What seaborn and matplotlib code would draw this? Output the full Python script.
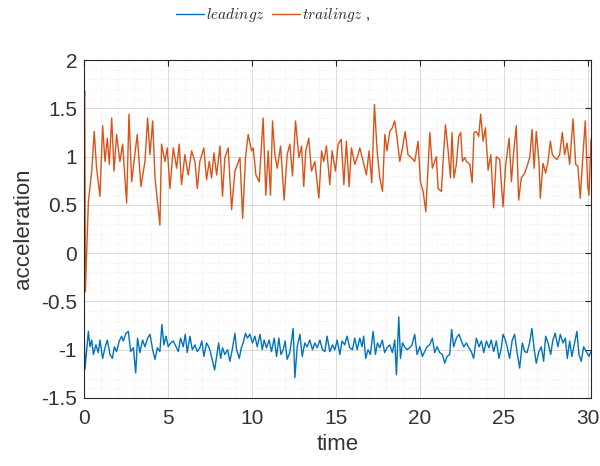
import matplotlib
matplotlib.use("Agg")
import numpy as np
import pandas as pd
import matplotlib.pyplot as plt
import seaborn as sns
from matplotlib.ticker import MultipleLocator

# trailing z acceleration (orange)
trailing_t = [0.00, 0.04, 0.08, 0.26, 0.46, 0.61, 0.75, 0.95, 1.11, 1.25, 1.39, 1.51, 1.65, 1.79, 1.94,
              2.14, 2.30, 2.54, 2.68, 2.84, 2.98, 3.17, 3.39, 3.63, 3.79, 3.93, 4.09, 4.23, 4.52,
              4.62, 4.82, 4.96, 5.12, 5.32, 5.52, 5.67, 5.81, 6.01, 6.21, 6.41, 6.61, 6.75, 6.90,
              7.14, 7.30, 7.46, 7.60, 7.74, 7.90, 8.10, 8.25, 8.39, 8.59, 8.79, 8.99, 9.29, 9.45,
              9.62, 9.78, 9.98, 10.08, 10.24, 10.44, 10.67, 10.83, 10.97, 11.11, 11.23, 11.37,
              11.51, 11.71, 11.92, 12.10, 12.26, 12.42, 12.60, 12.80, 12.96, 13.09, 13.21, 13.39,
              13.55, 13.75, 13.99, 14.15, 14.28, 14.44, 14.64, 14.78, 14.98, 15.14, 15.32, 15.48,
              15.63, 15.79, 15.93, 16.13, 16.29, 16.43, 16.63, 16.82, 16.98, 17.14, 17.30, 17.46,
              17.62, 17.78, 17.92, 18.05, 18.21, 18.37, 18.51, 18.65, 18.81, 18.97, 19.13, 19.30,
              19.50, 19.70, 19.90, 20.04, 20.20, 20.36, 20.50, 20.60, 20.75, 20.99, 21.09, 21.29,
              21.39, 21.53, 21.69, 21.83, 21.92, 22.04, 22.18, 22.32, 22.44, 22.54, 22.68, 22.78,
              22.98, 23.12, 23.23, 23.37, 23.51, 23.63, 23.77, 23.91, 24.07, 24.23, 24.40, 24.56,
              24.76, 24.96, 25.12, 25.32, 25.46, 25.60, 25.75, 25.89, 26.05, 26.25, 26.39, 26.55,
              26.69, 26.81, 26.94, 27.10, 27.18, 27.34, 27.50, 27.64, 27.78, 27.90, 28.04, 28.17,
              28.33, 28.49, 28.63, 28.77, 28.93, 29.13, 29.29, 29.42, 29.56, 29.72, 29.86, 30.00,
              30.08, 30.20]
trailing_z = [1.55, 1.68, -0.40, 0.53, 0.85, 1.26, 0.88, 0.59, 1.32, 0.95, 1.19, 0.92, 1.40, 0.85, 1.23,
              0.95, 1.13, 0.52, 1.44, 0.74, 0.95, 1.23, 0.69, 0.95, 1.40, 1.02, 1.37, 0.78, 0.29,
              1.13, 0.95, 1.09, 0.67, 1.09, 0.88, 1.13, 0.71, 1.02, 0.81, 1.06, 0.95, 0.67, 0.95,
              1.09, 0.76, 0.95, 0.78, 1.04, 0.81, 1.11, 0.59, 0.99, 1.09, 0.45, 0.85, 0.99, 0.36,
              0.99, 1.23, 1.06, 1.09, 0.81, 0.74, 1.40, 0.60, 1.06, 0.60, 1.37, 1.02,
              0.88, 1.11, 0.55, 1.02, 1.13, 0.80, 1.37, 0.99, 1.11, 0.69, 1.06, 1.19,
              0.85, 0.95, 0.57, 1.06, 0.95, 1.11, 0.71, 1.06, 0.85, 1.13, 1.18, 0.71,
              1.16, 0.69, 1.09, 0.92, 1.00, 1.09, 0.95, 0.81, 1.06, 0.73, 1.54, 1.06,
              0.78, 0.64, 1.23, 1.06, 1.26, 1.30, 1.37, 1.19, 0.95, 1.09, 1.26, 1.02,
              0.99, 0.95, 1.16, 0.74, 0.64, 0.43, 0.92, 1.25, 0.88, 1.00, 0.67, 0.64,
              0.95, 1.33, 1.06, 0.78, 1.25, 0.78, 0.92, 1.21, 1.25, 0.95, 0.99, 0.95,
              0.92, 0.73, 1.25, 1.26, 1.21, 1.44, 1.16, 1.30, 0.86, 1.02, 0.47, 1.00,
              0.97, 0.48, 0.92, 1.19, 0.74, 1.06, 1.32, 0.55, 0.78, 0.83, 0.90, 0.99,
              1.28, 0.88, 1.26, 0.95, 0.57, 0.93, 0.83, 0.95, 1.16, 1.02, 0.99, 0.97,
              1.02, 1.25, 1.02, 1.14, 0.92, 1.39, 0.92, 0.90, 0.57, 1.02, 1.37, 0.71,
              0.60, 1.18]

# leading z acceleration (blue)
leading_t = [0.00, 0.06, 0.26, 0.36, 0.46, 0.56, 0.71, 0.85, 0.95, 1.11, 1.25, 1.39, 1.55, 1.69,
             1.81, 1.94, 2.10, 2.24, 2.34, 2.50, 2.64, 2.78, 2.94, 3.08, 3.19, 3.33, 3.49, 3.63,
             3.79, 3.93, 4.09, 4.23, 4.37, 4.52, 4.64, 4.76, 4.88, 5.02, 5.16, 5.32, 5.48, 5.62,
             5.75, 5.91, 6.03, 6.15, 6.31, 6.45, 6.61, 6.75, 6.90, 7.02, 7.14, 7.30, 7.46, 7.62,
             7.78, 7.90, 8.02, 8.14, 8.25, 8.39, 8.55, 8.69, 8.83, 8.99, 9.09, 9.25, 9.37, 9.48,
             9.62, 9.74, 9.88, 10.04, 10.18, 10.32, 10.48, 10.62, 10.73, 10.87, 11.03, 11.17,
             11.33, 11.47, 11.61, 11.73, 11.87, 11.98, 12.10, 12.26, 12.46, 12.56, 12.70, 12.86,
             13.00, 13.15, 13.29, 13.45, 13.61, 13.75, 13.89, 14.05, 14.21, 14.35, 14.48, 14.64,
             14.80, 14.94, 15.08, 15.24, 15.37, 15.53, 15.67, 15.83, 15.99, 16.13, 16.27, 16.43,
             16.56, 16.66, 16.78, 16.92, 17.06, 17.22, 17.36, 17.48, 17.62, 17.77, 17.91, 18.05,
             18.21, 18.37, 18.51, 18.61, 18.75, 18.85, 18.97, 19.10, 19.24, 19.40, 19.54, 19.70,
             19.84, 20.00, 20.16, 20.29, 20.43, 20.59, 20.75, 20.89, 21.03, 21.19, 21.35, 21.49,
             21.62, 21.78, 21.90, 22.02, 22.18, 22.34, 22.48, 22.62, 22.78, 22.93, 23.07, 23.21,
             23.37, 23.53, 23.67, 23.81, 23.97, 24.12, 24.26, 24.40, 24.56, 24.72, 24.86, 24.96,
             25.10, 25.22, 25.35, 25.51, 25.65, 25.79, 25.95, 26.11, 26.25, 26.39, 26.54, 26.68,
             26.82, 26.94, 27.10, 27.24, 27.38, 27.50, 27.64, 27.80, 27.93, 28.07, 28.23, 28.37,
             28.53, 28.67, 28.79, 28.93, 29.06, 29.22, 29.36, 29.48, 29.62, 29.76, 29.92, 30.08,
             30.20]
leading_z = [-0.74, -1.20, -0.81, -0.97, -0.90, -1.05, -0.95, -1.03, -0.90, -1.09, -0.98, -0.90,
             -1.05, -1.09, -0.97, -1.02, -0.91, -0.86, -0.91, -0.83, -0.81, -1.02, -0.98, -1.24,
             -0.88, -1.03, -0.90, -0.97, -0.88, -0.84, -1.00, -1.10, -0.98, -1.02, -0.74, -0.95,
             -0.86, -0.97, -0.93, -0.91, -0.97, -1.02, -0.88, -0.97, -0.84, -1.03, -0.86, -1.00,
             -0.95, -1.02, -0.98, -0.91, -1.07, -0.93, -0.98, -1.09, -1.21, -1.07, -0.93, -1.09,
             -0.98, -1.05, -1.00, -1.12, -1.00, -0.83, -1.00, -1.09, -0.98, -0.93, -0.83, -0.88,
             -0.84, -0.93, -0.86, -0.97, -0.84, -1.00, -0.90, -0.98, -0.90, -1.02, -0.88, -1.07,
             -0.88, -1.05, -1.00, -0.91, -1.10, -1.03, -0.78, -1.29, -0.97, -0.84, -1.07, -0.93,
             -0.97, -0.90, -1.00, -0.93, -0.98, -0.90, -1.00, -1.02, -0.86, -1.02, -0.95, -1.00,
             -0.90, -1.05, -0.91, -0.95, -0.86, -0.98, -1.00, -0.88, -1.00, -0.88, -0.97, -0.86,
             -1.09, -1.00, -1.05, -0.81, -1.05, -0.93, -0.98, -0.90, -1.03, -0.98, -0.95, -1.03,
             -0.90, -1.26, -0.66, -1.09, -0.93, -0.97, -1.00, -0.98, -0.95, -0.84, -1.05, -0.97,
             -1.07, -1.02, -0.97, -0.95, -0.88, -1.03, -0.97, -1.03, -1.05, -1.14, -1.07, -1.05,
             -0.79, -0.97, -0.88, -0.84, -0.91, -0.97, -0.93, -0.98, -1.02, -1.09, -0.88, -0.97,
             -0.91, -1.03, -0.91, -0.98, -0.90, -1.02, -0.91, -1.09, -0.98, -0.84, -0.90, -0.98,
             -1.09, -0.90, -0.84, -1.02, -1.19, -0.93, -1.02, -1.03, -0.93, -0.78, -1.00, -1.14,
             -1.02, -0.97, -1.12, -0.86, -0.93, -1.05, -0.90, -0.83, -0.97, -0.84, -0.93, -0.88,
             -1.09, -0.91, -1.07, -0.93, -0.81, -1.05, -1.12, -0.97, -1.02, -1.07, -1.02]

x_ticks = [0, 5, 10, 15, 20, 25, 30]
y_ticks = [-1.5, -1, -0.5, 0, 0.5, 1, 1.5, 2]
y_tick_labels = ["-1.5", "-1", "-0.5", "0", "0.5", "1", "1.5", "2"]

sns.set_theme(style="white")
plt.rcParams["font.family"] = ["Liberation Sans", "DejaVu Sans"]
plt.rcParams["mathtext.fontset"] = "cm"

fig = plt.figure(figsize=(6.0, 4.66), dpi=100)
ax = fig.add_axes([0.14, 0.146, 0.845, 0.725])

lead_df = pd.DataFrame({"time": leading_t, "acceleration": leading_z})
trail_df = pd.DataFrame({"time": trailing_t, "acceleration": trailing_z})

sns.lineplot(data=lead_df, x="time", y="acceleration", ax=ax, color="#0072BD",
             linewidth=1.0, label=r"$leadingz$", sort=False)
sns.lineplot(data=trail_df, x="time", y="acceleration", ax=ax, color="#D95319",
             linewidth=1.0, label=r"$trailingz$ ,", sort=False)

ax.set_xlim(0, 30.2)
ax.set_ylim(-1.5, 2)
ax.set_xticks(x_ticks)
ax.set_yticks(y_ticks)
ax.set_yticklabels(y_tick_labels)
ax.xaxis.set_minor_locator(MultipleLocator(1))
ax.yaxis.set_minor_locator(MultipleLocator(0.1))

ax.grid(True, which="major", color="#d4d4d4", linewidth=0.6, linestyle="-")
ax.grid(True, which="minor", color="#e4e4e4", linewidth=0.5, linestyle=":")
ax.set_axisbelow(True)

for s in ax.spines.values():
    s.set_color("#262626")
    s.set_linewidth(0.8)
ax.tick_params(which="major", direction="in", length=4, width=0.8, color="#262626",
               top=True, right=True, labelsize=15, labelcolor="#333333", pad=8)
ax.tick_params(axis="y", which="major", pad=5)
ax.tick_params(which="minor", length=0)

ax.set_xlabel("time", fontsize=16, color="#333333", labelpad=4)
ax.set_ylabel("acceleration", fontsize=16, color="#333333", labelpad=5)

ax.legend_.remove()
handles, labels = ax.get_legend_handles_labels()
fig.legend(handles, labels, loc="center", bbox_to_anchor=(0.455, 0.967), ncol=2,
           frameon=False, fontsize=11, handlelength=1.8, columnspacing=0.5,
           handletextpad=0.15)

fig.savefig("out.png", dpi=100)
